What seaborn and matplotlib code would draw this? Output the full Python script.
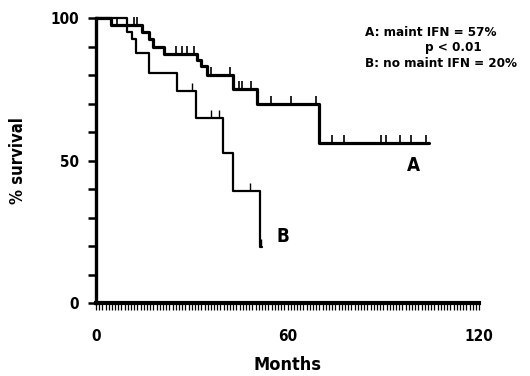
import numpy as np
import pandas as pd
import seaborn as sns
import matplotlib.pyplot as plt

# Kaplan-Meier steps (months, % survival)
a_times = [0, 4.6, 14.3, 16.5, 18.0, 21.3, 31.5, 33.0, 34.8, 43.0, 50.3, 69.8, 104.3]
a_surv = [100, 97.5, 95.0, 92.5, 90.0, 87.5, 85.3, 83.3, 80.0, 75.0, 69.8, 56.3, 56.3]
b_times = [0, 9.8, 11.3, 12.4, 16.6, 25.3, 31.4, 39.9, 42.9, 51.4, 52.0]
b_surv = [100, 95.0, 92.5, 87.8, 80.8, 74.5, 65.0, 52.6, 39.3, 19.5, 19.5]

# censored observations
a_cens_t = [6.6, 11.8, 12.9, 25.2, 27.0, 28.6, 30.7, 36.0, 41.9, 44.8, 45.8, 48.6,
            54.9, 61.0, 68.8, 74.0, 77.7, 89.2, 90.7, 95.1, 98.8, 103.5]
b_cens_t = [30.1, 35.9, 38.6, 48.2, 51.8]

x_labels = [0, 60, 120]
y_labels = [0, 50, 100]


def surv_at(times, surv, t):
    idx = np.searchsorted(times, t, side="right") - 1
    return surv[idx]


sns.set_style("white", rc={"text.color": "black", "axes.labelcolor": "black",
                           "xtick.color": "black", "ytick.color": "black"})
plt.rcParams['font.family'] = ['DejaVu Sans']
plt.rcParams['font.stretch'] = 'condensed'
plt.rcParams['font.weight'] = 'bold'

fig = plt.figure(figsize=(5.3, 3.76), dpi=100)
ax = fig.add_axes([0.181, 0.194, 0.723, 0.758])

df_a = pd.DataFrame({"Months": a_times, "surv": a_surv})
df_b = pd.DataFrame({"Months": b_times, "surv": b_surv})
sns.lineplot(data=df_a, x="Months", y="surv", estimator=None, drawstyle="steps-post",
             color="black", lw=2.3, ax=ax, clip_on=False)
sns.lineplot(data=df_b, x="Months", y="surv", estimator=None, drawstyle="steps-post",
             color="black", lw=1.6, ax=ax, clip_on=False)

a_cens_s = [surv_at(a_times, a_surv, t) for t in a_cens_t]
b_cens_s = [surv_at(b_times, b_surv, t) for t in b_cens_t]
ax.plot(a_cens_t, a_cens_s, ls="none", marker=2, ms=6, mew=1.2, color="black", clip_on=False)
ax.plot(b_cens_t, b_cens_s, ls="none", marker=2, ms=6, mew=1.0, color="black", clip_on=False)

ax.set_xlim(0, 120)
ax.set_ylim(0, 100)
for side in ["top", "right"]:
    ax.spines[side].set_visible(False)
ax.spines["left"].set_linewidth(2.4)
ax.spines["bottom"].set_linewidth(3.0)
ax.spines["left"].set_color("black")
ax.spines["bottom"].set_color("black")

ax.set_xticks(x_labels)
ax.set_xticks(np.arange(0, 121, 1), minor=True)
ax.set_yticks(y_labels)
ax.set_yticks(np.arange(0, 101, 10), minor=True)
ax.tick_params(axis="x", which="both", direction="out", length=5, width=0.9, color="black",
               bottom=True)
ax.tick_params(axis="x", which="major", pad=14, labelsize=11)
ax.tick_params(axis="y", which="both", direction="out", length=6, width=1.8, color="black",
               left=True)
ax.tick_params(axis="y", which="major", pad=6, labelsize=11)

ax.set_xlabel("Months", fontsize=13, fontweight="bold", labelpad=8)
ax.set_ylabel("% survival", fontsize=12, fontweight="bold", labelpad=17)

ax.text(84.3, 95.1, "A: maint IFN = 57%", fontsize=9.6, fontweight="bold", ha="left", va="center")
ax.text(112, 89.8, "p < 0.01", fontsize=9.6, fontweight="bold", ha="center", va="center")
ax.text(84.3, 84.2, "B: no maint IFN = 20%", fontsize=9.6, fontweight="bold", ha="left", va="center")
ax.text(99.5, 48.4, "A", fontsize=13.5, fontweight="bold", ha="center", va="center")
ax.text(58.5, 23.5, "B", fontsize=13.5, fontweight="bold", ha="center", va="center")

fig.savefig("out.png", dpi=100)
